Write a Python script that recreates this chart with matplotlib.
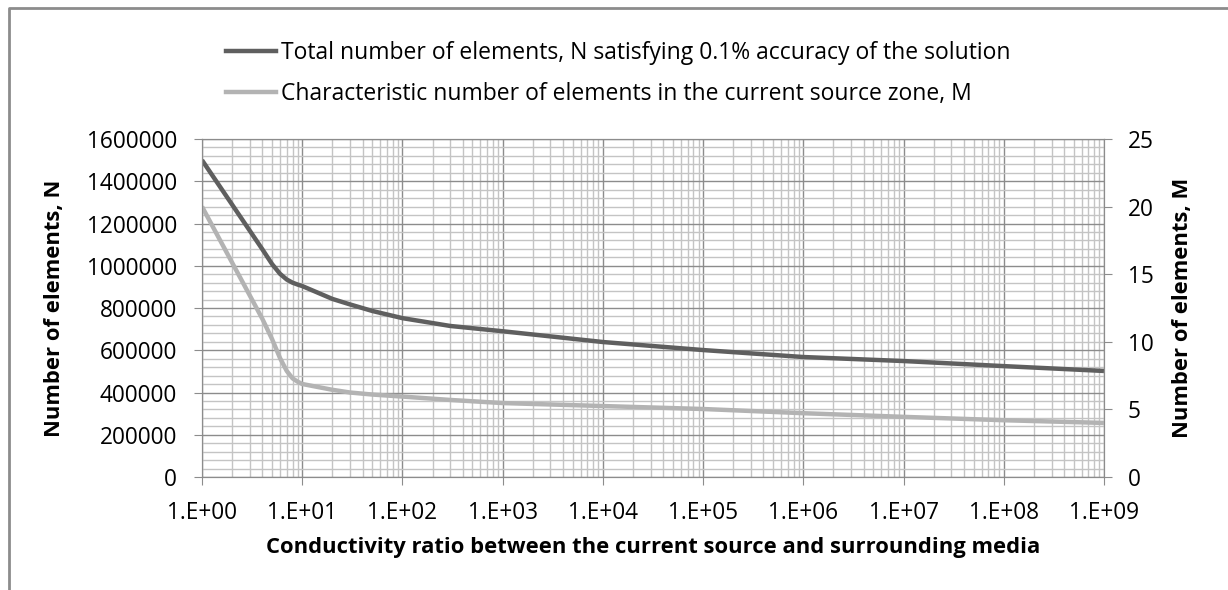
import matplotlib
matplotlib.use("Agg")
import matplotlib.pyplot as plt
from matplotlib.lines import Line2D
from matplotlib.ticker import FixedLocator, FuncFormatter, MultipleLocator
import numpy as np

# conductivity ratio (x) and the two curves
ratio = [1, 4, 5, 6, 7, 8, 9, 10, 20, 30, 50, 100, 300, 1e3, 1e4, 1e5, 1e6, 1e7, 1e8, 1e9]
n_total = [1500000, 1078000, 1008000, 962000, 935000, 920000, 911000, 904000, 843000, 817000,
           786000, 752000, 715000, 690000, 639000, 601000, 568000, 549000, 525000, 502000]
m_char = [20.0, 11.7, 10.2, 8.8, 7.85, 7.3, 7.05, 6.88, 6.45, 6.25,
          6.1, 5.95, 5.7, 5.47, 5.25, 5.03, 4.72, 4.45, 4.2, 4.0]

label_n = "Total number of elements, N satisfying 0.1% accuracy of the solution"
label_m = "Characteristic number of elements in the current source zone, M"

DARK = "#5f5f5f"
LIGHT = "#b3b3b3"
FONT = ["Open Sans", "DejaVu Sans"]

plt.rcParams.update({"font.family": FONT, "font.size": 16})

fig = plt.figure(figsize=(12.28, 5.90), dpi=100)
ax = fig.add_axes([0.1645, 0.1915, 0.7345, 0.5729])
ax2 = ax.twinx()

ax.plot(ratio, n_total, color=DARK, lw=3.2, solid_capstyle="butt", solid_joinstyle="round")
ax2.plot(ratio, m_char, color=LIGHT, lw=3.2, solid_capstyle="butt", solid_joinstyle="round")

ax.set_xscale("log")
ax.set_xlim(1, 1e9)
ax.set_ylim(0, 1600000)
ax2.set_ylim(0, 25)

ax.xaxis.set_major_locator(FixedLocator([10.0 ** k for k in range(10)]))
ax.xaxis.set_major_formatter(FuncFormatter(lambda v, p: f"1.E+{int(round(np.log10(v))):02d}"))
ax.xaxis.set_minor_locator(FixedLocator([m * 10.0 ** k for k in range(9) for m in range(2, 10)]))
ax.yaxis.set_major_locator(MultipleLocator(200000))
ax.yaxis.set_minor_locator(MultipleLocator(40000))
ax.yaxis.set_major_formatter(FuncFormatter(lambda v, p: f"{int(v)}"))
ax2.yaxis.set_major_locator(MultipleLocator(5))

ax.grid(True, which="major", color="#8c8c8c", lw=1.0)
ax.grid(True, which="minor", color="#c4c4c4", lw=1.0)
ax.set_axisbelow(True)

for a in (ax, ax2):
    for s in a.spines.values():
        s.set_color("#8c8c8c")
    a.tick_params(which="major", length=6, color="#8c8c8c", labelsize=16.3)
    a.tick_params(which="minor", length=0)
ax.tick_params(axis="y", pad=12)
ax.tick_params(axis="x", pad=11)
ax2.tick_params(axis="y", pad=11)

ax.set_xlabel("Conductivity ratio between the current source and surrounding media",
              fontsize=15.8, fontweight="bold", va="center")
ax.set_ylabel("Number of elements, N", fontsize=15.8, fontweight="bold", va="center")
ax2.set_ylabel("Number of elements, M", fontsize=15.8, fontweight="bold", va="center")
ax.xaxis.set_label_coords(0.5, -0.21)
ax.yaxis.set_label_coords(-0.164, 0.5)
ax2.yaxis.set_label_coords(1.0876, 0.5)

handles = [Line2D([], [], color=DARK, lw=3.2), Line2D([], [], color=LIGHT, lw=3.2)]
fig.legend(handles, [label_n, label_m], loc="upper center", bbox_to_anchor=(0.5035, 0.966),
           frameon=False, fontsize=16.5, handlelength=2.2, handletextpad=0.22,
           labelspacing=0.75)

# outer chart frame (left and top edges visible)
fig.add_artist(Line2D([0.0075, 0.0075, 1.0], [0.0, 0.986, 0.986],
                      transform=fig.transFigure, color="#8c8c8c", lw=2))

fig.savefig("out.png", dpi=100)
